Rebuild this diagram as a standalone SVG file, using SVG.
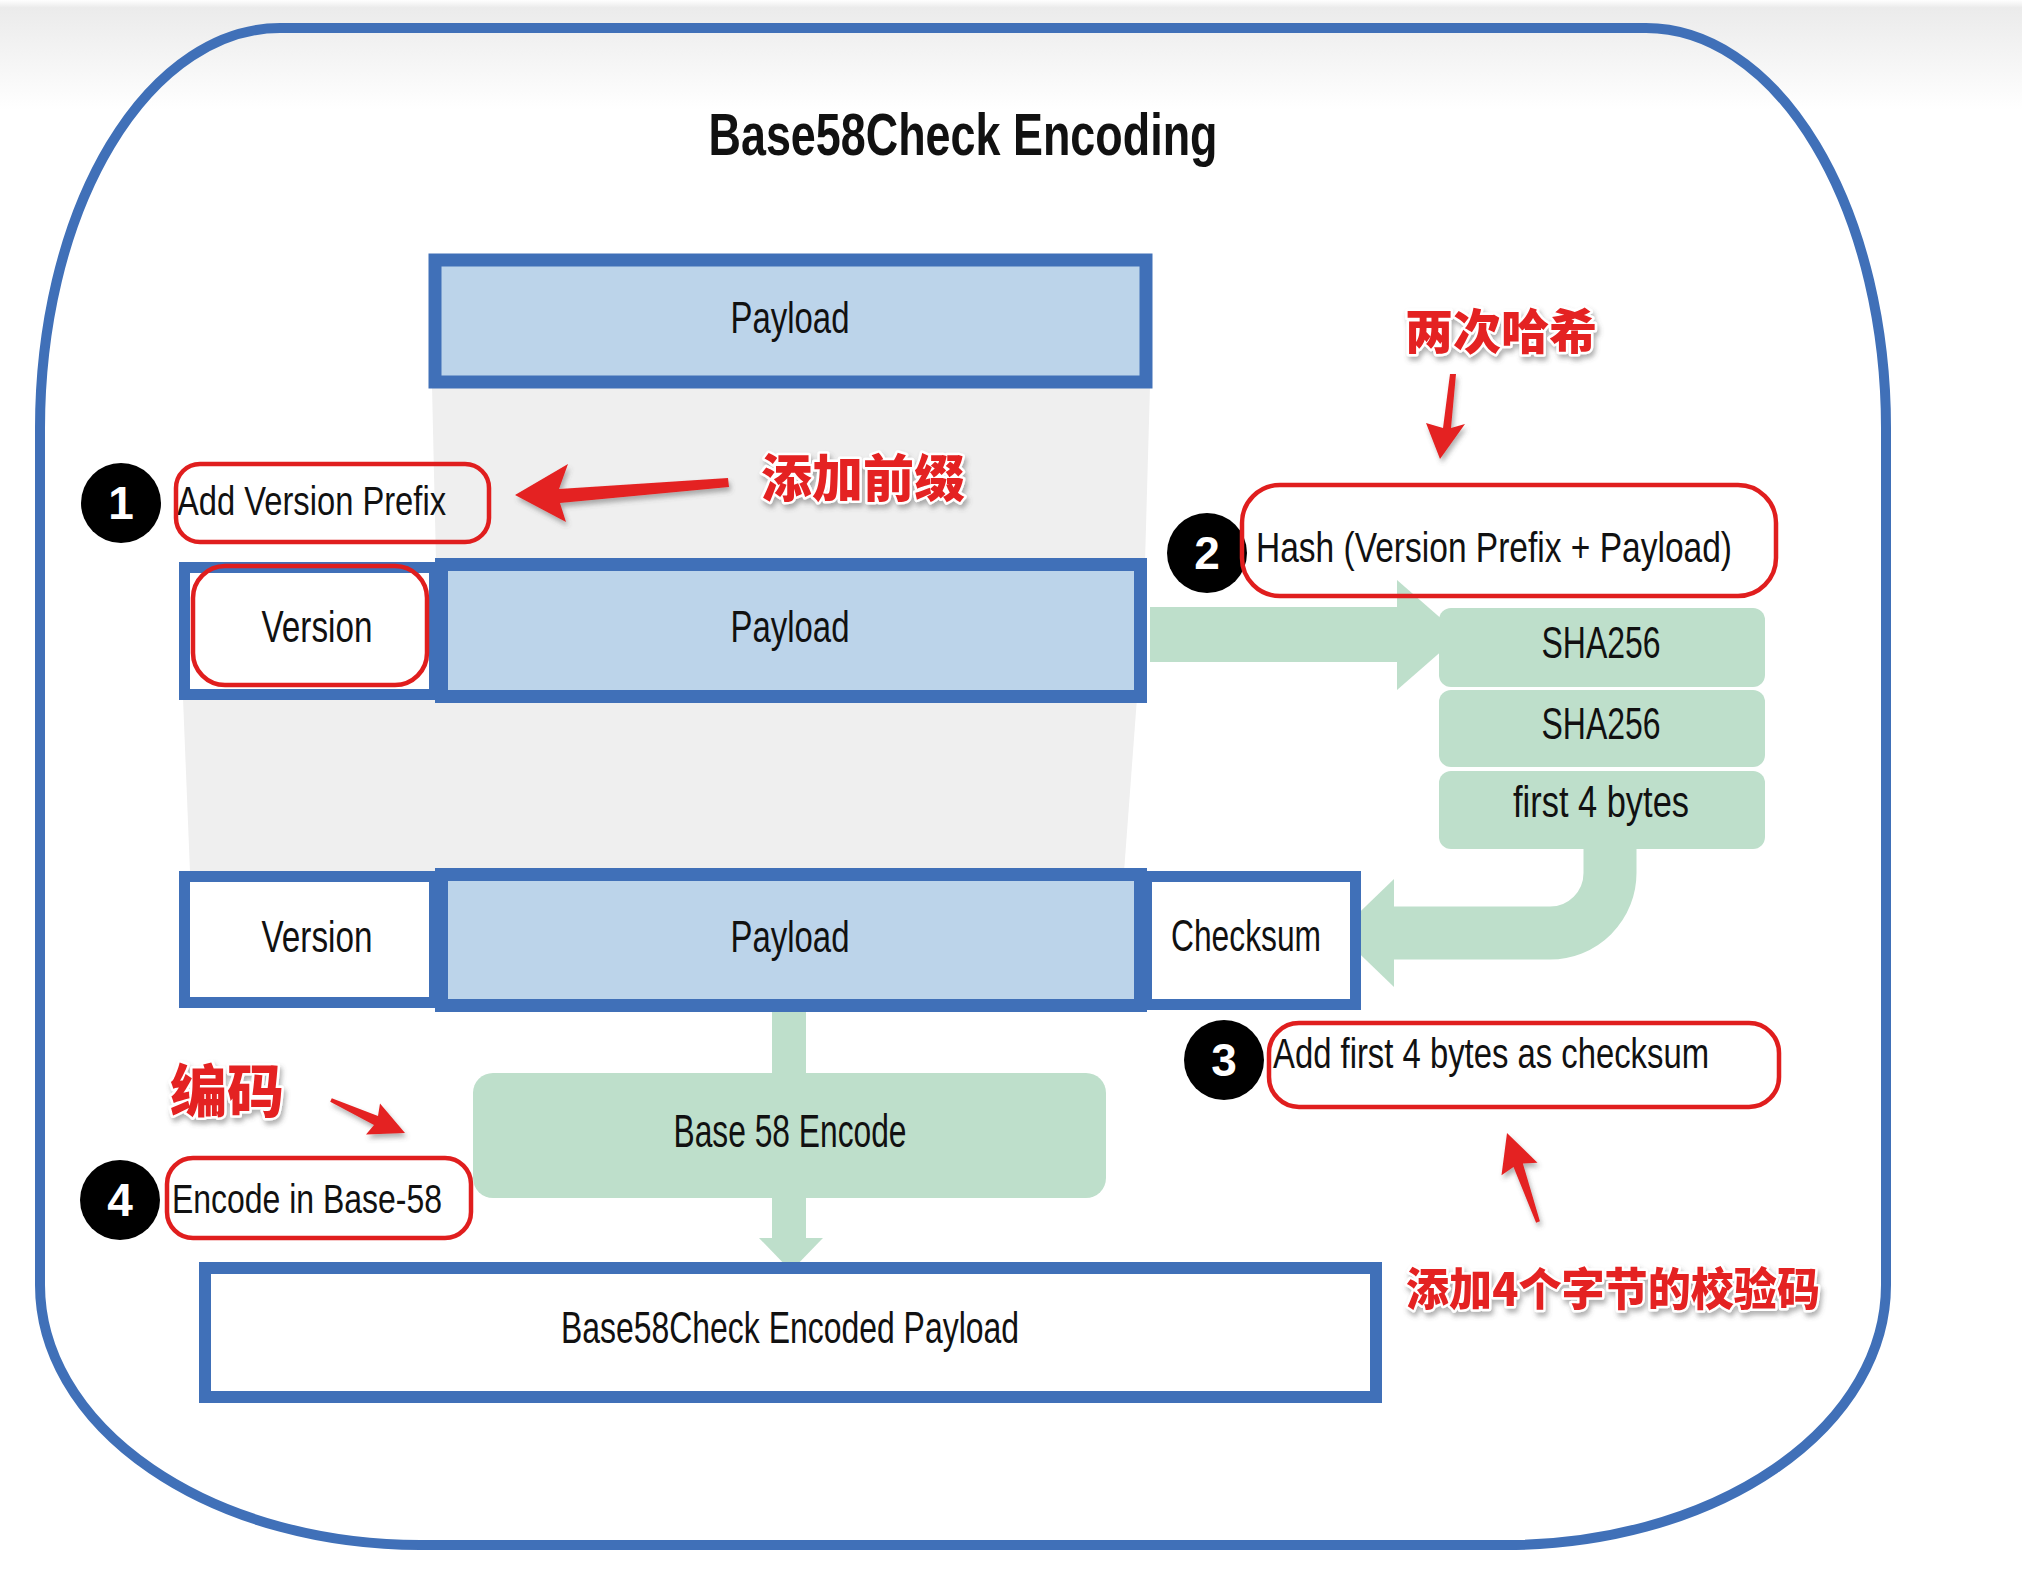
<svg xmlns="http://www.w3.org/2000/svg" width="2022" height="1575" viewBox="0 0 2022 1575">
<defs>
<linearGradient id="band" x1="0" y1="0" x2="0" y2="1">
<stop offset="0" stop-color="#ffffff"/>
<stop offset="0.07" stop-color="#ebebeb"/>
<stop offset="0.5" stop-color="#f4f4f4"/>
<stop offset="1" stop-color="#ffffff"/>
</linearGradient>
<filter id="sh" x="-20%" y="-20%" width="140%" height="160%">
<feDropShadow dx="2" dy="4" stdDeviation="2.5" flood-color="#555" flood-opacity="0.45"/>
</filter>
</defs>
<style>
.lbl{font-family:"Liberation Sans",Arial,sans-serif;font-size:44px;fill:#111;}
.mid{text-anchor:middle;}
.cell{fill:#ffffff;stroke:#4070b8;stroke-width:11;}
.pay{fill:#bcd4ea;stroke:#4070b8;stroke-width:13;}
.green{fill:#bedfcb;}
.redbox{fill:none;stroke:#e01e1e;stroke-width:4.5;}
.num{font-family:"Liberation Sans",Arial,sans-serif;font-weight:bold;font-size:46px;fill:#fff;text-anchor:middle;}
.cn{font-family:"Noto Sans CJK SC","Noto Sans CJK JP",sans-serif;font-weight:900;fill:#e42222;stroke:#fff;stroke-width:5;paint-order:stroke;stroke-linejoin:round;}
.rarrow{fill:#e42222;}
.gray{fill:#efefef;}
</style>
<rect x="0" y="0" width="2022" height="110" fill="url(#band)"/>
<path d="M280 28 H1646 A240 400 0 0 1 1886 428 V1285 A380 260 0 0 1 1506 1545 H420 A380 260 0 0 1 40 1285 V428 A240 400 0 0 1 280 28 Z" fill="none" stroke="#4070b8" stroke-width="10"/>
<text x="963" y="155" class="lbl mid" style="font-size:60px;font-weight:bold" textLength="509" lengthAdjust="spacingAndGlyphs">Base58Check Encoding</text>

<g id="background">
<polygon class="gray" points="432,386 1150,386 1145,562 436,562"/>
<polygon class="gray" points="183,698 1137,698 1124,872 190,872"/>
</g>

<g id="connectors">
<rect class="green" x="1150" y="607" width="250" height="55"/>
<polygon class="green" points="1397,580 1460,635 1397,690"/>
<path d="M1610 840 V873 A60 60 0 0 1 1550 933 H1390" fill="none" stroke="#bedfcb" stroke-width="53"/>
<polygon class="green" points="1394,879 1394,987 1338,933"/>
<rect class="green" x="772" y="1005" width="34" height="72"/>
<rect class="green" x="772" y="1195" width="34" height="46"/>
<polygon class="green" points="759,1238 823,1238 791,1271"/>
</g>

<g id="payload-top">
<rect class="pay" x="435" y="260" width="711" height="122"/>
<text x="790" y="333" class="lbl mid" textLength="119" lengthAdjust="spacingAndGlyphs">Payload</text>
</g>

<g id="row2-version">
<rect class="cell" x="184.5" y="567.5" width="250" height="127"/>
<text x="317" y="642" class="lbl mid" textLength="111" lengthAdjust="spacingAndGlyphs">Version</text>
</g>
<g id="row2-payload">
<rect class="pay" x="441.5" y="564.5" width="699" height="132"/>
<text x="790" y="642" class="lbl mid" textLength="119" lengthAdjust="spacingAndGlyphs">Payload</text>
</g>

<g id="sha1">
<rect class="green" x="1439" y="608" width="326" height="79" rx="12"/>
<text x="1601" y="658" class="lbl mid" textLength="119" lengthAdjust="spacingAndGlyphs">SHA256</text>
</g>
<g id="sha2">
<rect class="green" x="1439" y="690" width="326" height="77" rx="12"/>
<text x="1601" y="739" class="lbl mid" textLength="119" lengthAdjust="spacingAndGlyphs">SHA256</text>
</g>
<g id="first4">
<rect class="green" x="1439" y="771" width="326" height="78" rx="12"/>
<text x="1601" y="817" class="lbl mid" textLength="176" lengthAdjust="spacingAndGlyphs">first 4 bytes</text>
</g>

<g id="row3-version">
<rect class="cell" x="184.5" y="876.5" width="250" height="126"/>
<text x="317" y="952" class="lbl mid" textLength="111" lengthAdjust="spacingAndGlyphs">Version</text>
</g>
<g id="row3-checksum">
<rect class="cell" x="1146.5" y="876.5" width="209" height="128"/>
<text x="1246" y="951" class="lbl mid" textLength="150" lengthAdjust="spacingAndGlyphs">Checksum</text>
</g>
<g id="row3-payload">
<rect class="pay" x="441.5" y="874.5" width="699" height="131"/>
<text x="790" y="952" class="lbl mid" textLength="119" lengthAdjust="spacingAndGlyphs">Payload</text>
</g>

<g id="base58-encode">
<rect class="green" x="473" y="1073" width="633" height="125" rx="20"/>
<text x="790" y="1147" class="lbl mid" style="font-size:46px" textLength="233" lengthAdjust="spacingAndGlyphs">Base 58 Encode</text>
</g>

<g id="encoded-payload">
<rect class="cell" x="205" y="1268" width="1171" height="129" style="stroke-width:12"/>
<text x="790" y="1343" class="lbl mid" textLength="458" lengthAdjust="spacingAndGlyphs">Base58Check Encoded Payload</text>
</g>

<g id="step1">
<circle cx="121" cy="503" r="40" fill="#000"/>
<text x="121" y="519" class="num">1</text>
<text x="177" y="515" class="lbl" style="font-size:40px" textLength="269" lengthAdjust="spacingAndGlyphs">Add Version Prefix</text>
<rect class="redbox" x="176" y="464" width="313" height="78" rx="24"/>
</g>
<g id="version-mark">
<rect class="redbox" x="193" y="566" width="234" height="119" rx="32"/>
</g>

<g id="step2">
<circle cx="1207" cy="553" r="40" fill="#000"/>
<text x="1207" y="569" class="num">2</text>
<text x="1256" y="562" class="lbl" style="font-size:42px" textLength="476" lengthAdjust="spacingAndGlyphs">Hash (Version Prefix + Payload)</text>
<rect class="redbox" x="1242" y="485" width="534" height="111" rx="38"/>
</g>

<g id="step3">
<circle cx="1224" cy="1060" r="40" fill="#000"/>
<text x="1224" y="1076" class="num">3</text>
<text x="1273" y="1068" class="lbl" style="font-size:42px" textLength="436" lengthAdjust="spacingAndGlyphs">Add first 4 bytes as checksum</text>
<rect class="redbox" x="1269" y="1023" width="510" height="84" rx="30"/>
</g>

<g id="step4">
<circle cx="120" cy="1200" r="40" fill="#000"/>
<text x="120" y="1216" class="num">4</text>
<text x="172" y="1213" class="lbl" style="font-size:40px" textLength="270" lengthAdjust="spacingAndGlyphs">Encode in Base-58</text>
<rect class="redbox" x="167" y="1158" width="304" height="80" rx="26"/>
</g>

<g id="annotations" filter="url(#sh)">
<text x="761" y="497" class="cn" style="font-size:51px">添加前缀</text>
<polygon class="rarrow" points="515,495 568,464 559,489 728,478 729,487 560,503 566,522"/>
<text x="1405" y="349" class="cn" style="font-size:48px">两次哈希</text>
<polygon class="rarrow" points="1440,459 1426,423 1443,428 1450,374 1456,374 1451,428 1465,424"/>
<text x="170" y="1112" class="cn" style="font-size:57px">编码</text>
<polygon class="rarrow" points="405,1133 380,1103.5 378,1116 331.8,1098.2 330.2,1101.8 374,1125 366,1134.5"/>
<polygon class="rarrow" points="1507,1133 1537.5,1162.7 1522.9,1163.6 1539.9,1221.3 1536.1,1222.7 1513.5,1166.9 1501.5,1175.3"/>
<text x="1406" y="1306" class="cn" style="font-size:45px" textLength="414" lengthAdjust="spacingAndGlyphs">添加4个字节的校验码</text>
</g>
</svg>
